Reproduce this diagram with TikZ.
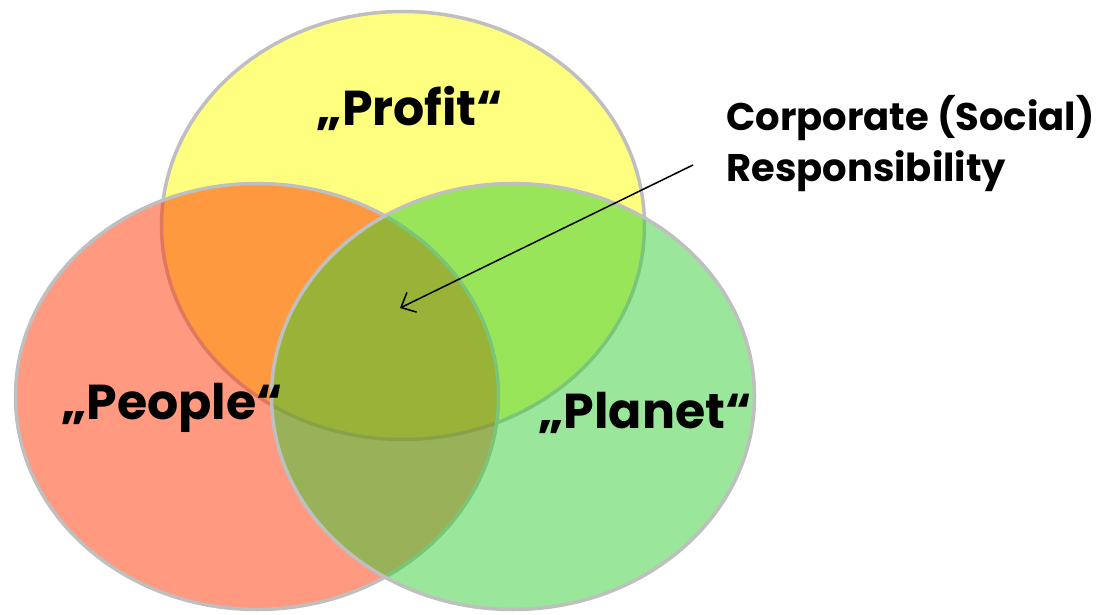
\documentclass[tikz,border=0pt]{standalone}
\usepackage{fontspec}
\setmainfont{Poppins}[BoldFont={* Bold}]
\usetikzlibrary{arrows.meta}
\begin{document}
\begin{tikzpicture}[x=1pt,y=-1pt,
  venn/.style={draw=black!25, line width=3.5pt, fill opacity=0.5},
  biglabel/.style={font=\bfseries\fontsize{49}{56}\selectfont, inner sep=0pt},
  smalllabel/.style={font=\bfseries\fontsize{38.5}{51}\selectfont, inner sep=0pt, align=left}]
\useasboundingbox (0,0) rectangle (1101,615);
\path[venn, fill={rgb,255:red,255;green,255;blue,0}] (403,225.5) ellipse [x radius=241.5, y radius=214];
\path[venn, fill={rgb,255:red,255;green,51;blue,0}] (257,396.5) ellipse [x radius=241.5, y radius=213];
\path[venn, fill={rgb,255:red,53;green,205;blue,53}] (513,396.5) ellipse [x radius=241.5, y radius=213];
\node[biglabel] (profit) at (410,108) {„Profit“};
\node[biglabel] (people) at (172,408) {„People“};
\node[biglabel] (planet) at (645,413) {„Planet“};
\node[smalllabel, anchor=north west] (csr) at (726,95) {Corporate (Social)\\Responsibility};
\coordinate (tip) at (400,308);
\coordinate (tail) at (693,165);
\draw[line width=1.5pt, -{Straight Barb[length=12pt,width=22pt]}] (tail) -- (tip);
\end{tikzpicture}
\end{document}
